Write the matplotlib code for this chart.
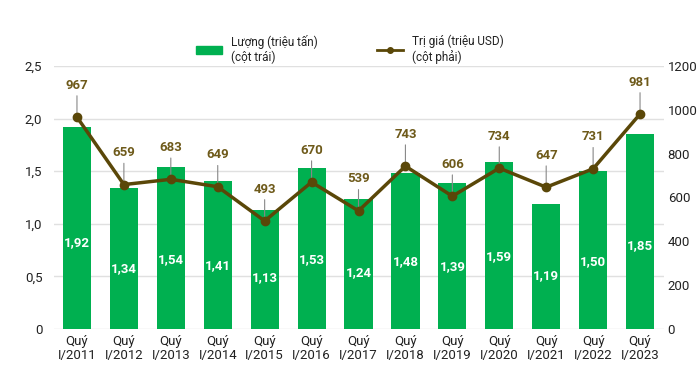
import matplotlib.pyplot as plt
from matplotlib.lines import Line2D
from matplotlib.patches import Patch

plt.rcParams['font.family'] = ['Roboto', 'DejaVu Sans']

quarters = ['Quý\nI/2011', 'Quý\nI/2012', 'Quý\nI/2013', 'Quý\nI/2014', 'Quý\nI/2015',
            'Quý\nI/2016', 'Quý\nI/2017', 'Quý\nI/2018', 'Quý\nI/2019', 'Quý\nI/2020',
            'Quý\nI/2021', 'Quý\nI/2022', 'Quý\nI/2023']
volume = [1.92, 1.34, 1.54, 1.41, 1.13, 1.53, 1.24, 1.48, 1.39, 1.59, 1.19, 1.50, 1.85]
value = [967, 659, 683, 649, 493, 670, 539, 743, 606, 734, 647, 731, 981]

left_ticks = [0, 0.5, 1.0, 1.5, 2.0, 2.5]
left_labels = ['0', '0,5', '1,0', '1,5', '2,0', '2,5']
right_ticks = [0, 200, 400, 600, 800, 1000, 1200]

green = '#00b050'
brown = '#5a4708'
label_brown = '#6e5a1a'
text_col = '#222222'

fig = plt.figure(figsize=(7, 3.69), dpi=100)
ax = fig.add_axes([53.5 / 700, 1 - 329 / 369, 610 / 700, 263 / 369])
ax2 = ax.twinx()

x = list(range(len(quarters)))
ax.bar(x, volume, width=0.6, color=green, zorder=2)
for i, v in enumerate(volume):
    ax.text(i, v * 0.43, f'{v:.2f}'.replace('.', ','), ha='center', va='center',
            color='white', fontsize=9.5, fontweight='bold', zorder=3)

ax.set_ylim(0, 2.5)
ax.set_xlim(-0.5, len(quarters) - 0.5)
ax.set_yticks(left_ticks)
ax.set_yticklabels(left_labels)
ax.set_xticks(x)
ax.set_xticklabels(quarters, fontsize=9.5, color=text_col, linespacing=1.15)
ax.yaxis.grid(True, color='#e0e0e0', lw=1, zorder=0)
ax.set_axisbelow(True)
ax.tick_params(length=0, labelsize=9.5, colors=text_col, pad=8)
ax.tick_params(axis='x', pad=4)
for s in ax.spines.values():
    s.set_visible(False)

ax2.plot(x, value, color=brown, lw=2.5, marker='o', markersize=6, zorder=4)
for i, v in enumerate(value):
    ax2.annotate(str(v), xy=(i, v), xytext=(0, 23), textcoords='offset points',
                 ha='center', va='center', color=label_brown, fontsize=9.5, fontweight='bold',
                 arrowprops=dict(arrowstyle='-', color='#888888', lw=0.8, shrinkA=1, shrinkB=0))
ax2.set_ylim(0, 1200)
ax2.set_yticks(right_ticks)
ax2.tick_params(length=0, labelsize=9.5, colors=text_col, pad=3)
for s in ax2.spines.values():
    s.set_visible(False)

handles = [Patch(color=green), Line2D([0], [0], color=brown, lw=2, marker='o', markersize=4)]
fig.legend(handles, ['Lượng (triệu tấn)\n(cột trái)', 'Trị giá (triệu USD)\n(cột phải)'],
           loc='upper center', bbox_to_anchor=(0.5, 0.935), ncol=2, frameon=False,
           fontsize=8.5, handlelength=2.2, columnspacing=5, labelcolor=text_col)

fig.savefig('out.png', dpi=100)
